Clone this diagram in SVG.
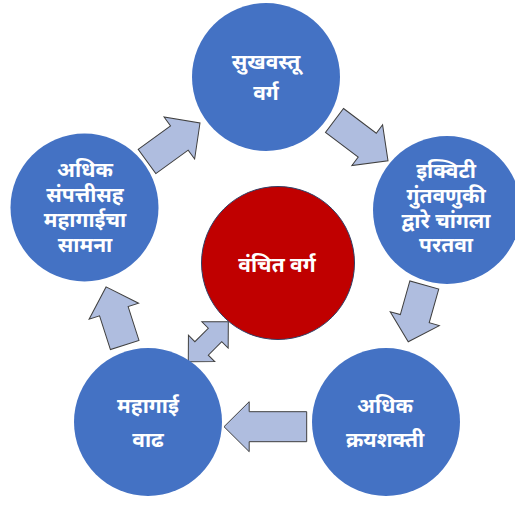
<svg xmlns="http://www.w3.org/2000/svg" width="515" height="506" viewBox="0 0 515 506">
<defs>
<style>
.node{fill:#4472C4;}
.center{fill:#C00000;stroke:#2F3F66;stroke-width:1;}
.lbl{font-family:"Noto Sans Devanagari","Noto Sans","Lohit Devanagari",sans-serif;font-weight:bold;font-size:21px;fill:#FFFFFF;text-anchor:middle;}
.arr{fill:#AFBDDF;stroke:#3F3F3F;stroke-width:1;stroke-linejoin:miter;}
</style>
</defs>
<rect x="0" y="0" width="515" height="506" fill="#FFFFFF"/>
<g id="connectors">
<polygon class="arr" transform="translate(147,161.5) rotate(-36)" points="0,-15 40,-15 40,-26 65.5,0 40,26 40,15 0,15"/>
<polygon class="arr" transform="translate(334.5,120.5) rotate(37)" points="0,-15 41,-15 41,-25.5 67,0 41,25.5 41,15 0,15"/>
<polygon class="arr" transform="translate(424.3,285) rotate(105.8)" points="0,-15 35,-15 35,-25.5 59,0 35,25.5 35,15 0,15"/>
<polygon class="arr" transform="translate(306.7,426.7) rotate(180)" points="0,-15 57.5,-15 57.5,-25 82.7,0 57.5,25 57.5,15 0,15"/>
<polygon class="arr" transform="translate(124.7,345) rotate(-107.8)" points="0,-15 35.5,-15 35.5,-26 61,0 35.5,26 35.5,15 0,15"/>
<polygon class="arr" transform="translate(208.3,341.7) rotate(-45)" points="28.3,0 9.5,-18.6 9.5,-9.5 -9.5,-9.5 -9.5,-18.6 -28.3,0 -9.5,18.6 -9.5,9.5 9.5,9.5 9.5,18.6"/>
</g>
<g id="node-top">
<circle class="node" cx="266" cy="77" r="74"/>
<text class="lbl" x="266" y="69">सुखवस्तू</text>
<text class="lbl" x="266" y="100">वर्ग</text>
</g>
<g id="node-right">
<circle class="node" cx="447" cy="210" r="74"/>
<text class="lbl" x="446" y="178">इक्विटी</text>
<text class="lbl" x="446" y="203">गुंतवणुकी</text>
<text class="lbl" x="446" y="228">द्वारे चांगला</text>
<text class="lbl" x="446" y="252">परतवा</text>
</g>
<g id="node-bottom-right">
<circle class="node" cx="386" cy="422" r="74"/>
<text class="lbl" x="385" y="413">अधिक</text>
<text class="lbl" x="385" y="447">क्रयशक्ती</text>
</g>
<g id="node-bottom-left">
<circle class="node" cx="148" cy="422" r="74"/>
<text class="lbl" x="148" y="413">महागाई</text>
<text class="lbl" x="148" y="447">वाढ</text>
</g>
<g id="node-left">
<circle class="node" cx="84.5" cy="207.5" r="74"/>
<text class="lbl" x="85" y="177">अधिक</text>
<text class="lbl" x="85" y="202">संपत्तीसह</text>
<text class="lbl" x="85" y="227">महागाईचा</text>
<text class="lbl" x="85" y="252">सामना</text>
</g>
<g id="node-center">
<circle class="center" cx="278" cy="263" r="76.5"/>
<text class="lbl" x="277" y="272">वंचित वर्ग</text>
</g>
</svg>
